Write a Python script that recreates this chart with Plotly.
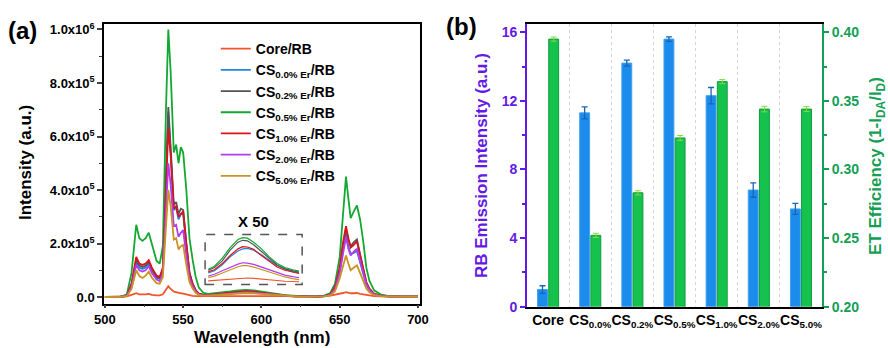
import plotly.graph_objects as go

# ---------------- Panel (a) data: emission spectra (units of 1e5 a.u.) ----------------
wavelength = [500, 505, 510, 514, 517, 520, 522, 524, 526, 528, 530, 533, 535, 537, 539,
              540.5, 542, 544, 545.5, 547, 548.5, 550, 552, 554, 556, 558, 560, 563, 566, 570,
              575, 580, 585, 590, 595, 600, 605, 610, 615, 620, 625, 630, 635, 640, 644,
              647, 650, 652, 654, 655.5, 657, 659, 661, 663, 665, 667, 669, 672, 676, 680,
              690, 700]

core_rb = [0.0, 0.0, 0.0, 0.02, 0.08, 0.14, 0.1, 0.09, 0.1, 0.12, 0.08, 0.06, 0.06, 0.1, 0.3,
           0.4, 0.3, 0.2, 0.18, 0.15, 0.14, 0.13, 0.1, 0.06, 0.04, 0.03, 0.03, 0.03, 0.03, 0.03,
           0.04, 0.04, 0.05, 0.05, 0.05, 0.04, 0.04, 0.03, 0.03, 0.02, 0.02, 0.02, 0.02, 0.03, 0.05,
           0.08, 0.12, 0.15, 0.18, 0.15, 0.14, 0.14, 0.15, 0.12, 0.1, 0.07, 0.05, 0.03, 0.02, 0.01,
           0.01, 0.01]
cs00_rb = [0.0, 0.0, 0.01, 0.05, 0.42, 1.3, 1.1, 1.05, 1.1, 1.25, 1.0, 0.72, 0.68, 1.0, 4.6,
           6.9, 5.4, 3.25, 3.35, 2.9, 3.1, 3.1, 1.9, 0.88, 0.48, 0.24, 0.12, 0.07, 0.07, 0.09,
           0.12, 0.16, 0.19, 0.2, 0.19, 0.16, 0.12, 0.08, 0.05, 0.03, 0.02, 0.01, 0.01, 0.03, 0.09,
           0.32, 0.95, 1.75, 2.35, 1.9, 1.62, 1.65, 1.72, 1.3, 0.85, 0.45, 0.25, 0.1, 0.05, 0.02,
           0.01, 0.01]
cs02_rb = [0.0, 0.0, 0.01, 0.05, 0.45, 1.4, 1.18, 1.12, 1.18, 1.3, 1.05, 0.75, 0.7, 1.05, 4.8,
           7.1, 5.6, 3.45, 3.55, 3.1, 3.3, 3.25, 2.0, 0.92, 0.5, 0.25, 0.13, 0.08, 0.08, 0.1,
           0.14, 0.18, 0.21, 0.23, 0.21, 0.17, 0.12, 0.08, 0.05, 0.03, 0.02, 0.01, 0.01, 0.03, 0.1,
           0.35, 1.0, 1.9, 2.55, 2.15, 1.9, 2.05, 2.15, 1.6, 1.05, 0.55, 0.3, 0.12, 0.05, 0.03,
           0.01, 0.01]
cs05_rb = [0.0, 0.0, 0.01, 0.1, 0.9, 2.7, 2.2, 2.1, 2.2, 2.4, 2.0, 1.35, 1.25, 1.9, 7.0,
           10.0, 8.4, 5.4, 5.7, 5.0, 5.6, 5.4, 4.0, 2.2, 1.4, 0.75, 0.35, 0.15, 0.12, 0.14,
           0.17, 0.21, 0.25, 0.27, 0.25, 0.2, 0.15, 0.1, 0.07, 0.05, 0.03, 0.02, 0.02, 0.05, 0.15,
           0.5, 1.5, 3.1, 4.5, 3.7, 2.95, 3.2, 3.42, 2.9, 2.1, 1.1, 0.6, 0.25, 0.1, 0.05,
           0.02, 0.02]
cs10_rb = [0.0, 0.0, 0.01, 0.05, 0.5, 1.5, 1.25, 1.2, 1.25, 1.38, 1.1, 0.8, 0.75, 1.1, 4.4,
           6.3, 5.3, 3.3, 3.4, 3.0, 3.1, 3.2, 2.0, 0.9, 0.5, 0.25, 0.13, 0.08, 0.08, 0.1,
           0.13, 0.17, 0.2, 0.22, 0.2, 0.16, 0.12, 0.08, 0.05, 0.03, 0.02, 0.01, 0.01, 0.03, 0.1,
           0.38, 1.1, 2.0, 2.65, 2.2, 1.85, 1.95, 2.08, 1.55, 1.0, 0.55, 0.3, 0.12, 0.05, 0.03,
           0.01, 0.01]
cs20_rb = [0.0, 0.0, 0.01, 0.04, 0.38, 1.2, 1.0, 0.95, 1.0, 1.15, 0.9, 0.65, 0.6, 0.9, 3.5,
           5.0, 4.2, 2.65, 2.7, 2.25, 2.4, 2.5, 1.55, 0.72, 0.4, 0.2, 0.1, 0.06, 0.06, 0.08,
           0.11, 0.14, 0.16, 0.17, 0.16, 0.13, 0.1, 0.07, 0.04, 0.02, 0.01, 0.01, 0.01, 0.02, 0.08,
           0.3, 0.9, 1.65, 2.25, 1.8, 1.55, 1.7, 1.8, 1.35, 0.88, 0.48, 0.26, 0.1, 0.04, 0.02,
           0.01, 0.01]
cs50_rb = [0.0, 0.0, 0.01, 0.03, 0.3, 1.0, 0.78, 0.71, 0.8, 0.95, 0.72, 0.52, 0.5, 0.75, 2.9,
           4.0, 3.4, 2.15, 2.2, 1.78, 1.9, 1.94, 1.2, 0.56, 0.32, 0.16, 0.08, 0.05, 0.05, 0.07,
           0.09, 0.12, 0.14, 0.15, 0.14, 0.12, 0.09, 0.06, 0.04, 0.02, 0.01, 0.01, 0.01, 0.02, 0.06,
           0.22, 0.7, 1.15, 1.55, 1.25, 1.0, 1.1, 1.18, 0.9, 0.6, 0.32, 0.18, 0.07, 0.03, 0.02,
           0.01, 0.01]

# "X 50" inset curves (read in main-axis units of 1e5)
inset_wl = [566, 570, 575, 580, 585, 588, 591, 595, 600, 605, 610, 615, 620, 624]
inset_core = [0.6, 0.62, 0.65, 0.68, 0.7, 0.71, 0.71, 0.7, 0.67, 0.64, 0.61, 0.59, 0.58, 0.57]
inset_cs00 = [0.9, 0.98, 1.2, 1.5, 1.72, 1.8, 1.82, 1.75, 1.58, 1.38, 1.18, 1.05, 0.95, 0.9]
inset_cs02 = [1.0, 1.1, 1.35, 1.75, 2.05, 2.12, 2.1, 1.95, 1.7, 1.45, 1.2, 1.05, 0.97, 0.93]
inset_cs05 = [1.04, 1.15, 1.45, 1.85, 2.15, 2.22, 2.2, 2.05, 1.8, 1.5, 1.25, 1.1, 1.02, 0.97]
inset_cs10 = [0.95, 1.02, 1.25, 1.55, 1.8, 1.88, 1.87, 1.78, 1.55, 1.33, 1.12, 1.0, 0.92, 0.88]
inset_cs20 = [0.78, 0.85, 0.98, 1.12, 1.23, 1.28, 1.27, 1.22, 1.12, 1.0, 0.9, 0.82, 0.76, 0.72]
inset_cs50 = [0.72, 0.78, 0.9, 1.03, 1.13, 1.17, 1.17, 1.12, 1.03, 0.93, 0.83, 0.75, 0.69, 0.65]

series_names = ["Core/RB", "CS<sub>0.0% Er</sub>/RB", "CS<sub>0.2% Er</sub>/RB",
                "CS<sub>0.5% Er</sub>/RB", "CS<sub>1.0% Er</sub>/RB",
                "CS<sub>2.0% Er</sub>/RB", "CS<sub>5.0% Er</sub>/RB"]
series_colors = ["#F2552A", "#1F86DE", "#555555", "#13A832", "#D9141C", "#B23CF0", "#C99322"]

y_ticks_a = [0, 2e5, 4e5, 6e5, 8e5, 1e6]
y_ticktext_a = ["0.0", "2.0x10<sup>5</sup>", "4.0x10<sup>5</sup>", "6.0x10<sup>5</sup>",
                "8.0x10<sup>5</sup>", "1.0x10<sup>6</sup>"]

# ---------------- Panel (b) data ----------------
samples = ["Core", "CS<sub>0.0%</sub>", "CS<sub>0.2%</sub>", "CS<sub>0.5%</sub>",
           "CS<sub>1.0%</sub>", "CS<sub>2.0%</sub>", "CS<sub>5.0%</sub>"]
rb_intensity = [1.0, 11.3, 14.2, 15.6, 12.3, 6.8, 5.7]
rb_err = [0.22, 0.35, 0.17, 0.13, 0.48, 0.42, 0.32]
et_eff = [0.395, 0.252, 0.283, 0.323, 0.364, 0.344, 0.344]
et_err = [0.0015, 0.0015, 0.0015, 0.0018, 0.0015, 0.002, 0.0018]

FONT = "Liberation Sans, Arial, sans-serif"
PURPLE = "#6419E6"
GREEN = "#13A055"

fig = go.Figure()

spectra = [core_rb, cs00_rb, cs02_rb, cs05_rb, cs10_rb, cs20_rb, cs50_rb]
for name, col, ys in zip(series_names, series_colors, spectra):
    fig.add_trace(go.Scatter(x=wavelength, y=[v * 1e5 for v in ys], mode="lines", name=name,
                             line=dict(color=col, width=1.8), xaxis="x", yaxis="y"))

insets = [inset_core, inset_cs00, inset_cs02, inset_cs05, inset_cs10, inset_cs20, inset_cs50]
for col, ys in zip(series_colors, insets):
    fig.add_trace(go.Scatter(x=inset_wl, y=[v * 1e5 for v in ys], mode="lines", showlegend=False,
                             line=dict(color=col, width=1.2), xaxis="x", yaxis="y"))

fig.add_trace(go.Bar(x=samples, y=rb_intensity, xaxis="x2", yaxis="y2", showlegend=False,
                     width=0.235, offset=-0.25,
                     marker=dict(color="#1C8CEC", line=dict(color="#3FA0F0", width=1)),
                     error_y=dict(type="data", array=rb_err, color="#1766B5", thickness=1.3, width=3)))
fig.add_trace(go.Bar(x=samples, y=et_eff, xaxis="x2", yaxis="y3", showlegend=False,
                     width=0.235, offset=0.015,
                     marker=dict(color="#16C24E", line=dict(color="#0E9E3C", width=1)),
                     error_y=dict(type="data", array=et_err, color="#86D83A", thickness=1, width=3)))

bold = dict(family=FONT, weight="bold")


def label(text, xpx, ypx, size, color="black", angle=0):
    return dict(text=text, x=xpx / 888, y=1 - ypx / 348, xref="paper", yref="paper",
                xanchor="center", yanchor="middle", showarrow=False, textangle=angle,
                font=dict(size=size, color=color, **bold))


fig.update_layout(
    width=888, height=348, margin=dict(l=0, r=0, t=0, b=0, autoexpand=False),
    paper_bgcolor="white", plot_bgcolor="white", barmode="overlay",
    font=dict(family=FONT, size=13, color="black"),
    showlegend=True,
    legend=dict(x=0.243, y=0.905, xanchor="left", yanchor="top", bgcolor="rgba(0,0,0,0)",
                font=dict(family=FONT, size=14, weight="bold", color="black"),
                tracegroupgap=0, itemwidth=30),
    xaxis=dict(domain=[0.1171, 0.473], range=[499.4, 701.3], anchor="y", automargin=False,
               tickvals=[500, 550, 600, 650, 700], ticks="outside", ticklen=3, tickwidth=1.5,
               showline=True, linecolor="black", linewidth=1.5, mirror=True, showgrid=False,
               zeroline=False, tickfont=dict(size=13, **bold),
               minor=dict(dtick=25, tick0=500, ticks="outside", ticklen=2, tickwidth=1.2)),
    yaxis=dict(domain=[0.1273, 0.931], range=[-25000, 1020500], anchor="x", automargin=False,
               tickvals=y_ticks_a, ticktext=y_ticktext_a, ticks="outside", ticklen=5, tickwidth=1.5,
               showline=True, linecolor="black", linewidth=1.5, mirror=True, showgrid=False,
               zeroline=False, tickfont=dict(size=13, **bold),
               minor=dict(dtick=1e5, tick0=0, ticks="outside", ticklen=3, tickwidth=1.2)),
    xaxis2=dict(domain=[0.5935, 0.9257], anchor="y2", type="category", automargin=False,
                range=[-0.5, 6.5], tickson="boundaries", ticks="", tickangle=0,
                showline=True, linecolor="black", linewidth=2, mirror=True,
                showgrid=True, gridcolor="#D4D4D4", griddash="dot", gridwidth=1,
                tickfont=dict(size=14, **bold)),
    yaxis2=dict(domain=[0.1187, 0.931], anchor="x2", range=[0, 16.48], automargin=False,
                tickvals=[0, 4, 8, 12, 16], ticks="outside", ticklen=5, tickwidth=1.5,
                tickcolor=PURPLE, showline=True, linecolor=PURPLE, linewidth=2,
                showgrid=False, zeroline=False, tickfont=dict(size=14, color=PURPLE, **bold),
                minor=dict(dtick=2, tick0=0, ticks="outside", ticklen=3, tickcolor=PURPLE)),
    yaxis3=dict(overlaying="y2", anchor="x2", side="right", range=[0.2, 0.406], automargin=False,
                tickvals=[0.20, 0.25, 0.30, 0.35, 0.40], tickformat=".2f",
                ticks="outside", ticklen=5, tickwidth=1.5, tickcolor=GREEN,
                showline=True, linecolor=GREEN, linewidth=2, showgrid=False, zeroline=False,
                tickfont=dict(size=14, color=GREEN, **bold),
                minor=dict(dtick=0.025, tick0=0.2, ticks="outside", ticklen=3, tickcolor=GREEN)),
    shapes=[dict(type="rect", xref="x", yref="y", x0=564, x1=626, y0=47000, y1=234000,
                 line=dict(color="#555555", width=1.5, dash="dash"))],
    annotations=[
        label("(a)", 22, 30, 24),
        label("(b)", 461, 27, 24),
        dict(text="X 50", x=594.6, y=281000, xref="x", yref="y", showarrow=False,
             xanchor="center", yanchor="middle", font=dict(size=15, **bold)),
        label("Intensity (a.u.)", 25, 163, 17, angle=-90),
        label("Wavelength (nm)", 262, 337, 17),
        label("RB Emission Intensity (a.u.)", 481, 165, 17, PURPLE, -90),
        label("ET Efficiency (1-I<sub>DA</sub>/I<sub>D</sub>)", 877, 166, 17, GREEN, -90),
    ],
)

fig.write_html("out.html")
